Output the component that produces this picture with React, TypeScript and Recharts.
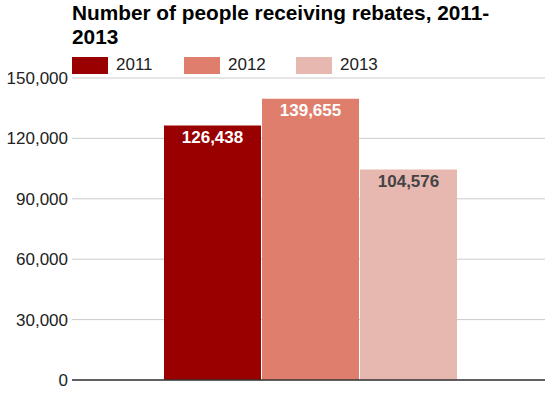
import { BarChart, Bar, XAxis, YAxis, CartesianGrid, LabelList, ReferenceLine } from "recharts"

const YEARS = ["2011", "2012", "2013"]
const VALUES = [126438, 139655, 104576]
const COLORS = ["#990000", "#df7e6c", "#e7b8b0"]
const LABEL_COLORS = ["#ffffff", "#ffffff", "#444444"]
const Y_TICKS = [0, 30000, 60000, 90000, 120000, 150000]

const FONT = "'Liberation Sans', Arial, sans-serif"

const row: Record<string, string | number> = { name: "" }
YEARS.forEach((y, i) => {
  row[y] = VALUES[i]
})
const chartData = [row]

const fmt = (v: number) => v.toLocaleString("en-US")

// legend drawn by hand so the chart doesn't reserve space for it
function LegendBox() {
  return (
    <div
      style={{
        position: "absolute",
        left: 72,
        top: 55,
        display: "flex",
        fontFamily: FONT,
        fontSize: 17,
        color: "#222",
        zIndex: 2,
      }}
    >
      {YEARS.map((y, i) => (
        <div key={y} style={{ display: "flex", alignItems: "center", width: 112 }}>
          <div style={{ width: 36, height: 17, background: COLORS[i], marginRight: 8 }} />
          <span>{y}</span>
        </div>
      ))}
    </div>
  )
}

export default function App() {
  return (
    <div style={{ position: "absolute", left: 0, top: 0, width: 551, height: 398, background: "#fff", fontFamily: FONT }}>
      <div
        style={{
          position: "absolute",
          left: 72,
          top: 1,
          width: 475,
          fontSize: 20.8,
          lineHeight: "24.4px",
          fontWeight: "bold",
          color: "#000",
          zIndex: 2,
        }}
      >
        Number of people receiving rebates, 2011-
        <br />
        2013
      </div>
      <LegendBox />
      <BarChart
        width={551}
        height={398}
        data={chartData}
        margin={{ top: 78, right: 6, bottom: 18, left: 0 }}
        barCategoryGap={88}
        barGap={1}
      >
        <CartesianGrid vertical={false} stroke="#cccccc" />
        <XAxis dataKey="name" hide padding={{ left: 4, right: 0 }} />
        <YAxis
          width={72}
          domain={[0, 150000]}
          ticks={Y_TICKS}
          tickFormatter={fmt}
          axisLine={false}
          tickLine={false}
          tickSize={0}
          tickMargin={4}
          tick={{ fontSize: 17, fill: "#222", fontFamily: FONT }}
          interval={0}
        />
        {YEARS.map((y, i) => (
          <Bar key={y} dataKey={y} fill={COLORS[i]} isAnimationActive={false}>
            <LabelList
              dataKey={y}
              position="insideTop"
              offset={5}
              formatter={(v: number) => fmt(v)}
              style={{ fill: LABEL_COLORS[i], fontSize: 17, fontWeight: "bold", fontFamily: FONT }}
            />
          </Bar>
        ))}
        <ReferenceLine y={0} stroke="#333" strokeWidth={1.5} />
      </BarChart>
    </div>
  )
}
